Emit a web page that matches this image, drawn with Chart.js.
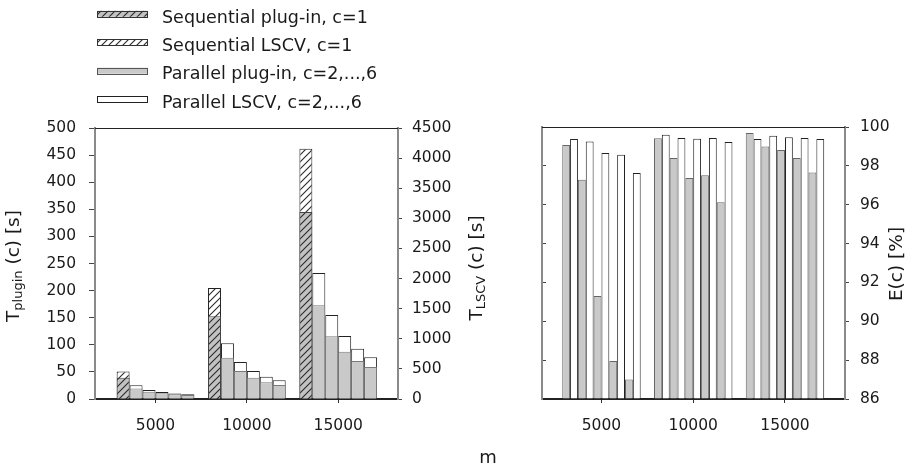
<!DOCTYPE html>
<html>
<head>
<meta charset="utf-8">
<title>Plug-in vs LSCV run times and efficiency</title>
<script src="https://cdn.jsdelivr.net/npm/chart.js@4"></script>
<style>
  html, body { margin: 0; padding: 0; background: #fff; }
  #wrap { position: relative; width: 913px; height: 468px; }
  #wrap canvas { position: absolute; left: 0; top: 0; }
</style>
</head>
<body>
<div id="wrap">
  <canvas id="timeChart" width="913" height="468"></canvas>
  <canvas id="effChart" width="913" height="468"></canvas>
</div>
<script>
// --- data -----------------------------------------------------------
const mValues = [5000, 10000, 15000];
const xTicks = [5000, 10000, 15000];
const cValues = [1, 2, 3, 4, 5, 6];

// T_plugin(c) [s], one row per c, values for m = 5000, 10000, 15000
const tPlugin = [
    [39, 152.5, 345],
    [19.5, 76, 173],
    [13.3, 51.5, 116],
    [10.7, 39, 87],
    [8.9, 31, 70],
    [7.4, 26, 59]
];
// T_LSCV(c) [s]
const tLscv = [
    [455, 1843, 4157],
    [230, 927, 2091],
    [151, 616, 1393],
    [115, 466, 1045],
    [92, 368, 833],
    [78, 310, 694]
];

// E(c) [%] for c = 2..6
const effCValues = [2, 3, 4, 5, 6];
const effPlugin = [
    [99.07, 99.42, 99.69],
    [97.28, 98.40, 98.99],
    [91.30, 97.37, 98.81],
    [87.96, 97.52, 98.40],
    [87.00, 96.13, 97.66]
];
const effLscv = [
    [99.38, 99.60, 99.38],
    [99.26, 99.43, 99.55],
    [98.66, 99.40, 99.47],
    [98.57, 99.43, 99.43],
    [97.63, 99.23, 99.38]
];

const legendLabels = [
    'Sequential plug-in, c=1',
    'Sequential LSCV, c=1',
    'Parallel plug-in, c=2,...,6',
    'Parallel LSCV, c=2,...,6'
];

// --- styling --------------------------------------------------------
const FONT = "'DejaVu Sans', sans-serif";
Chart.defaults.font.family = FONT;
Chart.defaults.font.size = 15.5;
Chart.defaults.color = '#1a1a1a';
Chart.defaults.animation = false;

const GREY = '#c9c9c9';

function hatch(bg, fg) {
    const c = document.createElement('canvas');
    c.width = c.height = 7;
    const g = c.getContext('2d');
    g.fillStyle = bg;
    g.fillRect(0, 0, 7, 7);
    g.strokeStyle = fg;
    g.lineWidth = 1.1;
    g.beginPath();
    g.moveTo(0, 7); g.lineTo(7, 0);
    g.moveTo(-1, 1); g.lineTo(1, -1);
    g.moveTo(6, 8); g.lineTo(8, 6);
    g.stroke();
    return g.createPattern(c, 'repeat');
}
const seqPluginFill = hatch('#c2c2c2', '#2a2a2a');
const seqLscvFill = hatch('#ffffff', '#2a2a2a');

// fixed axis boxes so both plot areas land where the figure has them
const fixBox = (w, h) => (s) => {
    if (w !== undefined) s.width = w;
    if (h !== undefined) s.height = h;
    s.paddingTop = s.paddingBottom = s.paddingLeft = s.paddingRight = 0;
};
const plain = v => String(v);

function xAxis(min, max) {
    return {
        type: 'linear', min: min, max: max, offset: false,
        grid: { drawOnChartArea: false, offset: false, tickLength: 4, color: '#333' },
        border: { color: '#222', width: 2 },
        ticks: { padding: 14, callback: plain, autoSkip: false, maxRotation: 0 },
        afterBuildTicks: s => { s.ticks = xTicks.map(v => ({ value: v })); },
        afterFit: fixBox(undefined, 69)
    };
}

function drawVertical(ctx, cx, cy, parts) {
    ctx.save();
    ctx.translate(cx, cy);
    ctx.rotate(-Math.PI / 2);
    ctx.textBaseline = 'middle';
    ctx.textAlign = 'left';
    ctx.fillStyle = '#1a1a1a';
    let total = 0;
    parts.forEach(p => {
        ctx.font = p[1] + 'px ' + FONT;
        p.w = ctx.measureText(p[0]).width;
        total += p.w;
    });
    let x = -total / 2;
    parts.forEach(p => {
        ctx.font = p[1] + 'px ' + FONT;
        ctx.fillText(p[0], x, p[2]);
        x += p.w;
    });
    ctx.restore();
}

function topLine(chart) {
    const ctx = chart.ctx, a = chart.chartArea;
    ctx.save();
    ctx.strokeStyle = '#222';
    ctx.lineWidth = 1;
    ctx.beginPath();
    ctx.moveTo(a.left, Math.round(a.top) + 0.5);
    ctx.lineTo(a.right, Math.round(a.top) + 0.5);
    ctx.stroke();
    ctx.restore();
}

// --- left chart: run times -----------------------------------------
const timeDatasets = [];
cValues.forEach((c, i) => {
    const seq = c === 1;
    timeDatasets.push({
        label: 'plug-in, c=' + c,
        data: tPlugin[i],
        yAxisID: 'y',
        stack: 'c' + c,
        backgroundColor: seq ? seqPluginFill : GREY,
        borderColor: seq ? '#444' : '#7a7a7a',
        borderWidth: 1
    });
    timeDatasets.push({
        label: 'LSCV, c=' + c,
        data: tLscv[i],
        yAxisID: 'y2',
        stack: 'c' + c,
        backgroundColor: seq ? seqLscvFill : '#ffffff',
        borderColor: '#222',
        borderWidth: 1
    });
});

const legendStyles = [
    { fill: seqPluginFill, stroke: '#333' },
    { fill: seqLscvFill, stroke: '#333' },
    { fill: GREY, stroke: '#555' },
    { fill: '#ffffff', stroke: '#222' }
];

const timeDecor = {
    id: 'timeDecor',
    afterDraw(chart) {
        const ctx = chart.ctx;
        topLine(chart);
        ctx.save();
        // legend
        legendLabels.forEach((txt, i) => {
            const cy = 13.8 + i * 28.45;
            ctx.fillStyle = legendStyles[i].fill;
            ctx.fillRect(97, cy - 3, 51, 6);
            ctx.strokeStyle = legendStyles[i].stroke;
            ctx.lineWidth = 1;
            ctx.strokeRect(97.5, Math.round(cy - 3) + 0.5, 50, 6);
            ctx.fillStyle = '#1a1a1a';
            ctx.font = '17.5px ' + FONT;
            ctx.textAlign = 'left';
            ctx.textBaseline = 'alphabetic';
            ctx.fillText(txt, 162, 22.7 + i * 28.3);
        });
        // axis titles
        drawVertical(ctx, 14, 266, [['T', 18.5, 0], ['plugin', 13, 5], [' (c) [s]', 18.5, 0]]);
        drawVertical(ctx, 477, 268, [['T', 18.5, 0], ['LSCV', 13, 5], [' (c) [s]', 18.5, 0]]);
        // shared x title
        ctx.fillStyle = '#1a1a1a';
        ctx.font = '18px ' + FONT;
        ctx.textAlign = 'center';
        ctx.textBaseline = 'alphabetic';
        ctx.fillText('m', 488, 463);
        ctx.restore();
    }
};

new Chart(document.getElementById('timeChart'), {
    type: 'bar',
    data: { labels: mValues, datasets: timeDatasets },
    options: {
        responsive: false,
        events: [],
        layout: { padding: { top: 128, left: 0, right: 0, bottom: 0 } },
        datasets: { bar: { categoryPercentage: 0.85, barPercentage: 1 } },
        plugins: { legend: { display: false }, tooltip: { enabled: false } },
        scales: {
            x: xAxis(1690, 18270),
            y: {
                position: 'left', min: 0, max: 500, stacked: false,
                ticks: { stepSize: 50, padding: 13, callback: plain },
                grid: { drawOnChartArea: false, tickLength: 6, color: '#444' },
                border: { color: '#8a8a8a', width: 2 },
                afterFit: fixBox(95)
            },
            y2: {
                position: 'right', min: 0, max: 4500, stacked: false,
                ticks: { stepSize: 500, padding: 10, callback: plain },
                grid: { drawOnChartArea: false, tickLength: 4, color: '#444' },
                border: { color: '#8a8a8a', width: 2 },
                afterFit: fixBox(913 - 398)
            }
        }
    },
    plugins: [timeDecor]
});

// --- right chart: efficiency ----------------------------------------
const effMin = 86, effMax = 100;
const effDatasets = [];
effCValues.forEach((c, i) => {
    effDatasets.push({
        label: 'plug-in, c=' + c,
        data: effPlugin[i],
        yAxisID: 'yE',
        base: effMin,
        backgroundColor: GREY,
        borderColor: '#666',
        borderWidth: 1
    });
    effDatasets.push({
        label: 'LSCV, c=' + c,
        data: effLscv[i],
        yAxisID: 'yE',
        base: effMin,
        backgroundColor: '#ffffff',
        borderColor: '#222',
        borderWidth: 1
    });
});

const effDecor = {
    id: 'effDecor',
    afterDraw(chart) {
        topLine(chart);
        drawVertical(chart.ctx, 897, 264, [['E(c) [%]', 18.5, 0]]);
    }
};

new Chart(document.getElementById('effChart'), {
    type: 'bar',
    data: { labels: mValues, datasets: effDatasets },
    options: {
        responsive: false,
        events: [],
        layout: { padding: { top: 127, left: 0, right: 0, bottom: 0 } },
        datasets: { bar: { categoryPercentage: 0.855, barPercentage: 1 } },
        plugins: { legend: { display: false }, tooltip: { enabled: false } },
        scales: {
            x: xAxis(1760, 18270),
            yL: {
                position: 'left', min: effMin, max: effMax,
                ticks: { stepSize: 2, display: false },
                grid: { drawOnChartArea: false, tickLength: -4, color: '#444' },
                border: { color: '#8a8a8a', width: 2 },
                afterFit: fixBox(542)
            },
            yE: {
                position: 'right', min: effMin, max: effMax, stacked: false,
                ticks: { stepSize: 2, padding: 11, callback: plain },
                grid: { drawOnChartArea: false, tickLength: 4, color: '#444' },
                border: { color: '#8a8a8a', width: 2 },
                afterFit: fixBox(913 - 845)
            }
        }
    },
    plugins: [effDecor]
});
</script>
</body>
</html>
